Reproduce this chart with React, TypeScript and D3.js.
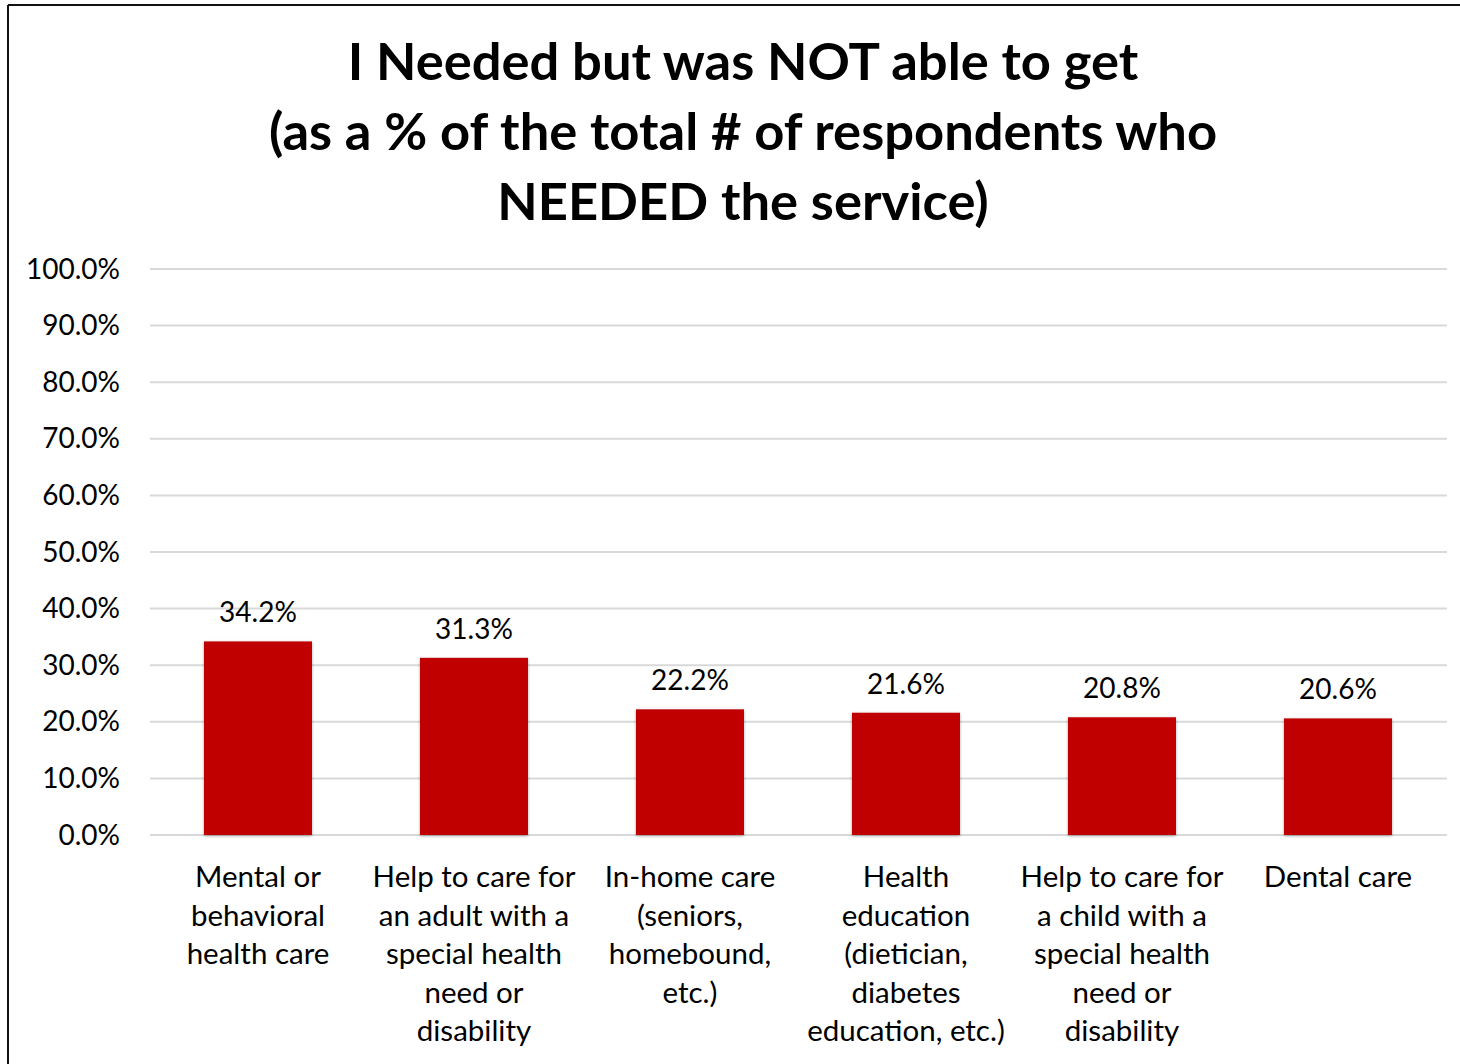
import React from "react";
import * as d3 from "d3";

const categories: string[][] = [
  ["Mental or", "behavioral", "health care"],
  ["Help to care for", "an adult with a", "special health", "need or", "disability"],
  ["In-home care", "(seniors,", "homebound,", "etc.)"],
  ["Health", "education", "(dietician,", "diabetes", "education, etc.)"],
  ["Help to care for", "a child with a", "special health", "need or", "disability"],
  ["Dental care"],
];
const values: number[] = [34.2, 31.3, 22.2, 21.6, 20.8, 20.6];
const yTicks: number[] = [0, 10, 20, 30, 40, 50, 60, 70, 80, 90, 100];
const titleLines: string[] = [
  "I Needed but was NOT able to get",
  "(as a % of the total # of respondents who",
  "NEEDED the service)",
];

const W = 1460;
const H = 1064;
const FONT = "Lato, 'Open Sans', sans-serif";

export default function App() {
  const x = d3
    .scaleBand<number>()
    .domain(values.map((_, i) => i))
    .range([150, 1446])
    .paddingInner(0.5)
    .paddingOuter(0.25);
  const y = d3.scaleLinear().domain([0, 100]).range([835, 269]);

  return (
    <svg
      width={W}
      height={H}
      style={{ position: "absolute", left: 0, top: 0, background: "#fff" }}
    >
      <defs>
        <filter id="sh" x="-10%" y="-10%" width="120%" height="120%">
          <feDropShadow dx="0" dy="1" stdDeviation="1.5" floodColor="#000" floodOpacity="0.35" />
        </filter>
      </defs>
      <rect x={0} y={0} width={W} height={H} fill="#fff" />
      {/* border */}
      <line x1={8} y1={5} x2={W} y2={5} stroke="#111" strokeWidth={2} />
      <line x1={8} y1={5} x2={8} y2={H} stroke="#111" strokeWidth={2} />

      {/* title */}
      {titleLines.map((t, i) => (
        <text
          key={i}
          x={743}
          y={80 + i * 70}
          textAnchor="middle"
          fontFamily={FONT}
          fontWeight={700}
          fontSize={52.5}
          fill="#000"
        >
          {t}
        </text>
      ))}

      {/* gridlines and ticks */}
      {yTicks.map((t) => (
        <g key={t}>
          <line
            x1={150}
            x2={1447}
            y1={y(t)}
            y2={y(t)}
            stroke="#d9d9d9"
            strokeWidth={2}
          />
          <text
            x={120}
            y={y(t) + 9.5}
            textAnchor="end"
            fontFamily={FONT}
            fontSize={28}
            fill="#000"
          >
            {t.toFixed(1)}%
          </text>
        </g>
      ))}

      {/* bars */}
      {values.map((v, i) => (
        <rect
          key={i}
          x={x(i)!}
          y={y(v)}
          width={x.bandwidth()}
          height={y(0) - y(v)}
          fill="#C00000"
          filter="url(#sh)"
        />
      ))}

      {/* data labels */}
      {values.map((v, i) => (
        <text
          key={i}
          x={x(i)! + x.bandwidth() / 2}
          y={y(v) - 19}
          textAnchor="middle"
          fontFamily={FONT}
          fontSize={28}
          fill="#000"
        >
          {v.toFixed(1)}%
        </text>
      ))}

      {/* category labels */}
      {categories.map((lines, i) => (
        <text
          key={i}
          textAnchor="middle"
          fontFamily={FONT}
          fontSize={29.5}
          fill="#000"
        >
          {lines.map((l, j) => (
            <tspan key={j} x={x(i)! + x.bandwidth() / 2} y={887 + j * 38.6}>
              {l}
            </tspan>
          ))}
        </text>
      ))}
    </svg>
  );
}
